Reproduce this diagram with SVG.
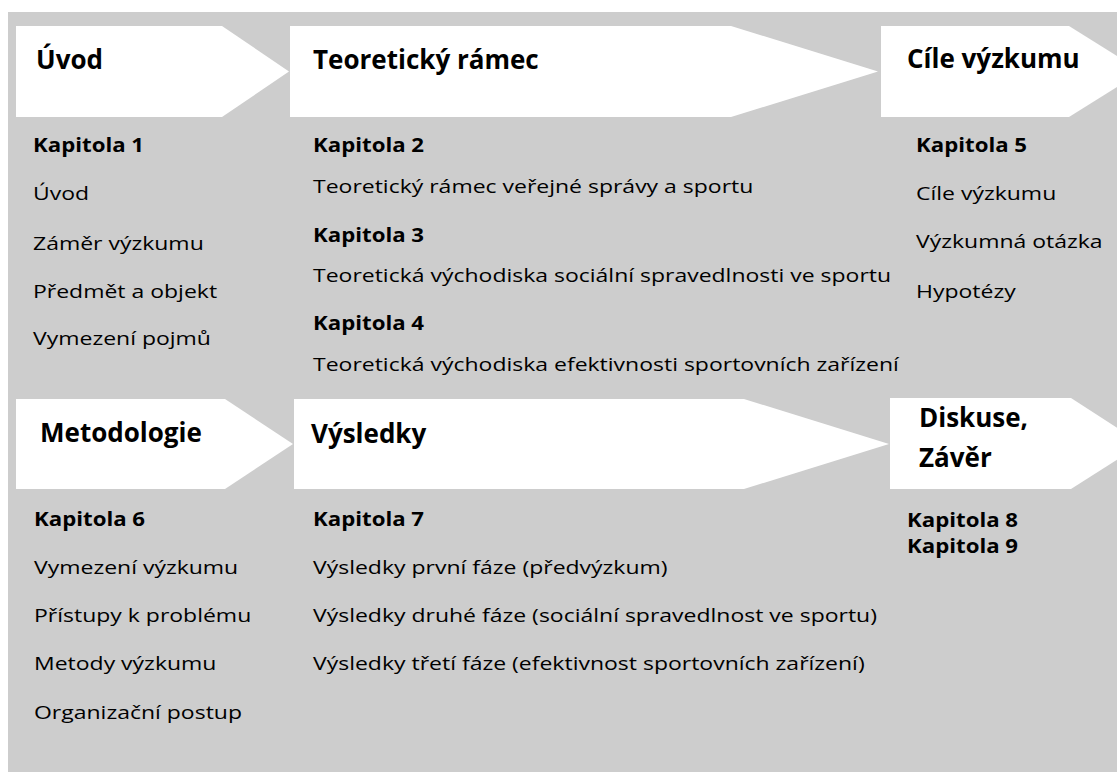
<svg xmlns="http://www.w3.org/2000/svg" width="1117" height="772" viewBox="0 0 1117 772">
<style>
.bg{fill:#cdcdcd}
.ar{fill:#ffffff}
.t{font-family:"Open Sans","Liberation Sans",sans-serif;font-weight:bold;font-size:26px;fill:#000}
.h{font-family:"Open Sans","Liberation Sans",sans-serif;font-weight:bold;font-size:19px;fill:#000}
.b{font-family:"Open Sans","Liberation Sans",sans-serif;font-size:19px;fill:#000}
</style>
<rect class="bg" x="8" y="12" width="1109" height="760"/>
<g id="uvod">
<polygon class="ar" points="16,26 222,26 289,71.5 222,117 16,117"/>
<text class="t" x="36" y="69">Úvod</text>
<text class="h" transform="translate(33,152) scale(1.17,1)">Kapitola 1</text>
<text class="b" transform="translate(33,200) scale(1.21,1)">Úvod</text>
<text class="b" transform="translate(33,250) scale(1.21,1)">Záměr výzkumu</text>
<text class="b" transform="translate(33,298) scale(1.21,1)">Předmět a objekt</text>
<text class="b" transform="translate(33,345) scale(1.21,1)">Vymezení pojmů</text>
</g>
<g id="teoreticky-ramec">
<polygon class="ar" points="290,26 731,26 878,71.5 731,117 290,117"/>
<text class="t" x="313" y="69">Teoretický rámec</text>
<text class="h" transform="translate(313,152) scale(1.17,1)">Kapitola 2</text>
<text class="b" transform="translate(313,193) scale(1.21,1)">Teoretický rámec veřejné správy a sportu</text>
<text class="h" transform="translate(313,242) scale(1.17,1)">Kapitola 3</text>
<text class="b" transform="translate(313,282) scale(1.21,1)">Teoretická východiska sociální spravedlnosti ve sportu</text>
<text class="h" transform="translate(313,330) scale(1.17,1)">Kapitola 4</text>
<text class="b" transform="translate(313,371) scale(1.21,1)">Teoretická východiska efektivnosti sportovních zařízení</text>
</g>
<g id="cile-vyzkumu">
<polygon class="ar" points="881,26 1069,26 1142,71.5 1069,117 881,117"/>
<text class="t" x="907" y="68">Cíle výzkumu</text>
<text class="h" transform="translate(916,152) scale(1.17,1)">Kapitola 5</text>
<text class="b" transform="translate(916,200) scale(1.21,1)">Cíle výzkumu</text>
<text class="b" transform="translate(916,248) scale(1.21,1)">Výzkumná otázka</text>
<text class="b" transform="translate(916,298) scale(1.21,1)">Hypotézy</text>
</g>
<g id="metodologie">
<polygon class="ar" points="16,399 225,399 293,444 225,489 16,489"/>
<text class="t" x="40" y="442">Metodologie</text>
<text class="h" transform="translate(34,526) scale(1.17,1)">Kapitola 6</text>
<text class="b" transform="translate(34,574) scale(1.21,1)">Vymezení výzkumu</text>
<text class="b" transform="translate(34,622) scale(1.21,1)">Přístupy k problému</text>
<text class="b" transform="translate(34,670) scale(1.21,1)">Metody výzkumu</text>
<text class="b" transform="translate(34,719) scale(1.21,1)">Organizační postup</text>
</g>
<g id="vysledky">
<polygon class="ar" points="294,399 744,399 889,444 744,489 294,489"/>
<text class="t" x="311" y="443">Výsledky</text>
<text class="h" transform="translate(313,526) scale(1.17,1)">Kapitola 7</text>
<text class="b" transform="translate(313,574) scale(1.21,1)">Výsledky první fáze (předvýzkum)</text>
<text class="b" transform="translate(313,622) scale(1.21,1)">Výsledky druhé fáze (sociální spravedlnost ve sportu)</text>
<text class="b" transform="translate(313,670) scale(1.21,1)">Výsledky třetí fáze (efektivnost sportovních zařízení)</text>
</g>
<g id="diskuse-zaver">
<polygon class="ar" points="890,398 1071,398 1142,444 1071,489 890,489"/>
<text class="t" x="919" y="427">Diskuse,</text>
<text class="t" x="919" y="467">Závěr</text>
<text class="h" transform="translate(907,527) scale(1.17,1)">Kapitola 8</text>
<text class="h" transform="translate(907,553) scale(1.17,1)">Kapitola 9</text>
</g>
<g id="connectors"></g>
</svg>
